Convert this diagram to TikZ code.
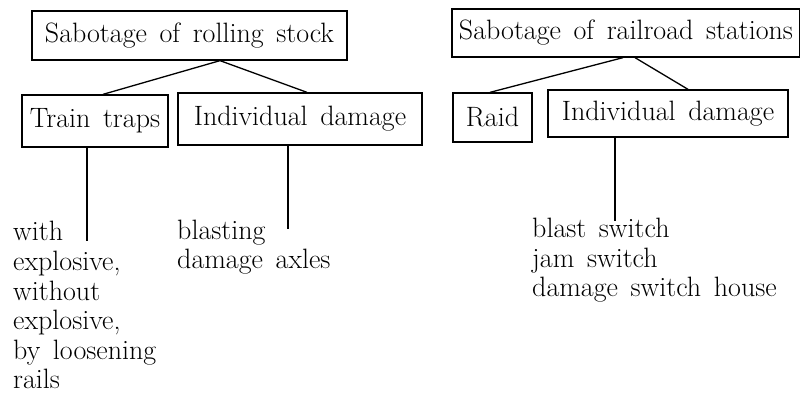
\documentclass[tikz,border=0pt]{standalone}
\newcommand\chartfont{\fontsize{28}{29.6}\selectfont\spaceskip=12.6pt plus 3pt\relax}
\begin{document}
\begin{tikzpicture}[x=1pt,y=1pt,font=\chartfont,
  box/.style={draw,line width=1.3pt,inner sep=0pt,align=center},
  ln/.style={line width=1.3pt},
  lst/.style={align=left,inner sep=0pt,anchor=base west}]
\useasboundingbox (0,0) rectangle (800,393);
\node[box,minimum width=315pt,minimum height=49pt] (stock) at (189.5,357.5) {Sabotage of rolling stock};
\node[box,minimum width=146pt,minimum height=52pt] (traps) at (95,272) {Train traps};
\node[box,minimum width=244pt,minimum height=52pt] (dmg1) at (300,274) {Individual damage};
\node[box,minimum width=348pt,minimum height=48pt] (stat) at (626,360) {Sabotage of railroad stations};
\node[box,minimum width=79pt,minimum height=49pt] (raid) at (492.5,275.5) {Raid};
\node[box,minimum width=240pt,minimum height=47pt] (dmg2) at (668,279.5) {Individual damage};
% base anchor sits on the last line
\node[lst] (trapl) at (13,4) {with\\explosive,\\without\\explosive,\\by loosening\\rails};
\node[lst] (dmgl1) at (177,124) {blasting\\damage axles};
\node[lst] (dmgl2) at (532,96) {blast switch\\jam switch\\damage switch house};
\draw[ln] ([xshift=8pt]traps.north) -- ([xshift=30.5pt]stock.south) -- ([xshift=7pt]dmg1.north);
\draw[ln] ([xshift=-2.5pt]raid.north) -- ([xshift=-3pt]stat.south);
\draw[ln] ([xshift=9pt]stat.south) -- ([xshift=20pt]dmg2.north);
\draw[ln] ([xshift=-8pt]traps.south) -- ++(0,-93);
\draw[ln] ([xshift=-12pt]dmg1.south) -- ++(0,-83);
\draw[ln] ([xshift=-53pt]dmg2.south) -- ++(0,-83);
\end{tikzpicture}
\end{document}
